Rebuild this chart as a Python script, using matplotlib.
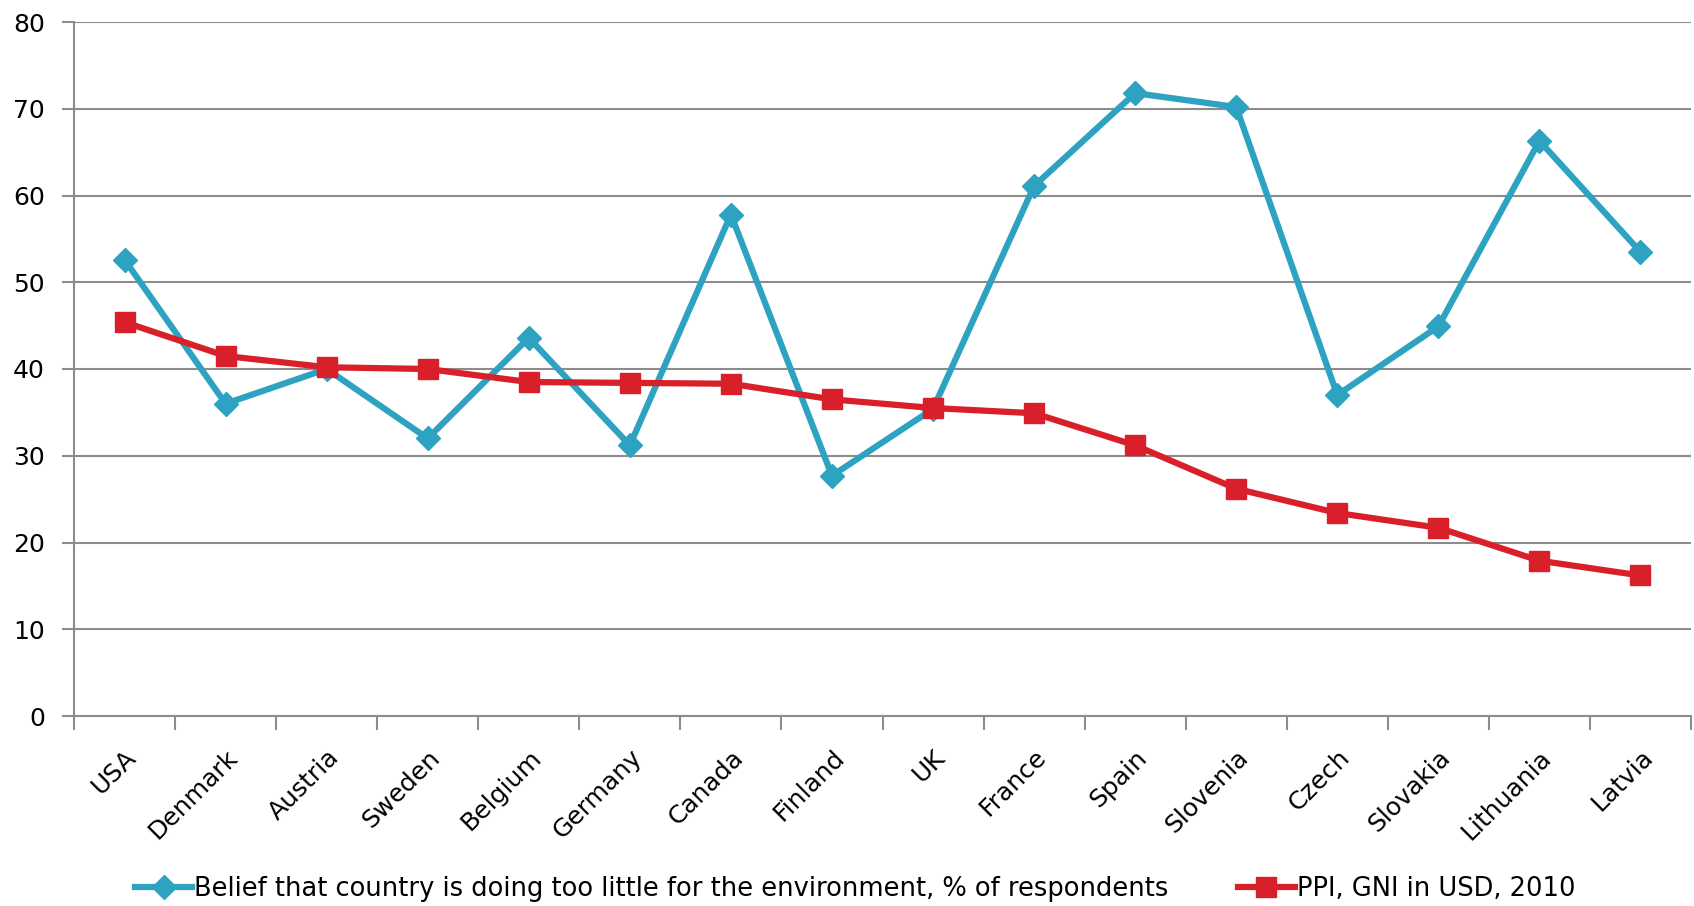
import numpy as np
import matplotlib.pyplot as plt

countries = ['USA', 'Denmark', 'Austria', 'Sweden', 'Belgium', 'Germany', 'Canada',
             'Finland', 'UK', 'France', 'Spain', 'Slovenia', 'Czech', 'Slovakia',
             'Lithuania', 'Latvia']
belief = [52.6, 36.0, 40.0, 32.0, 43.6, 31.2, 57.8, 27.7, 35.4, 61.1, 71.8, 70.2,
          37.0, 44.9, 66.3, 53.5]
ppi = [45.4, 41.5, 40.2, 40.0, 38.5, 38.4, 38.3, 36.5, 35.5, 34.9, 31.2, 26.2,
       23.4, 21.7, 17.9, 16.2]
yticks = [0, 10, 20, 30, 40, 50, 60, 70, 80]

blue = '#2ea3c1'
red = '#d9202a'
grey = '#8c8c8c'

fig = plt.figure(figsize=(16.94, 9.06), dpi=100)
ax = fig.add_axes([74 / 1694, 1 - 716 / 906, 1617 / 1694, 694 / 906])

x = np.arange(len(countries))
ax.plot(x, belief, color=blue, lw=4.5, marker='D', ms=12.5,
        label='Belief that country is doing too little for the environment, % of respondents')
ax.plot(x, ppi, color=red, lw=4.5, marker='s', ms=15,
        label='PPI, GNI in USD, 2010')

ax.set_xlim(-0.5, len(countries) - 0.5)
ax.set_ylim(0, 80)
ax.set_yticks(yticks)
ax.yaxis.grid(True, color=grey, lw=1.5)
ax.set_axisbelow(True)

for side in ['top', 'right']:
    ax.spines[side].set_visible(False)
for side in ['left', 'bottom']:
    ax.spines[side].set_color(grey)
    ax.spines[side].set_linewidth(1.5)

# ticks sit on the category boundaries, labels at the centres
ax.set_xticks(np.arange(len(countries) + 1) - 0.5)
ax.set_xticklabels([])
ax.set_xticks(x, minor=True)
ax.set_xticklabels(countries, minor=True, rotation=45, ha='right',
                   rotation_mode='anchor', fontsize=18)
ax.tick_params(axis='x', which='minor', length=0, pad=21)
ax.tick_params(axis='x', which='major', length=10, width=1.5, color=grey)
ax.tick_params(axis='y', length=9, width=1.5, color=grey, labelsize=18, pad=12)

fig.legend(loc='center', bbox_to_anchor=(0.505, 1 - 889 / 906), ncol=2, frameon=False,
           fontsize=18.5, columnspacing=2.7, handlelength=2.2, handletextpad=0.1)

plt.savefig('out.png', dpi=100)
